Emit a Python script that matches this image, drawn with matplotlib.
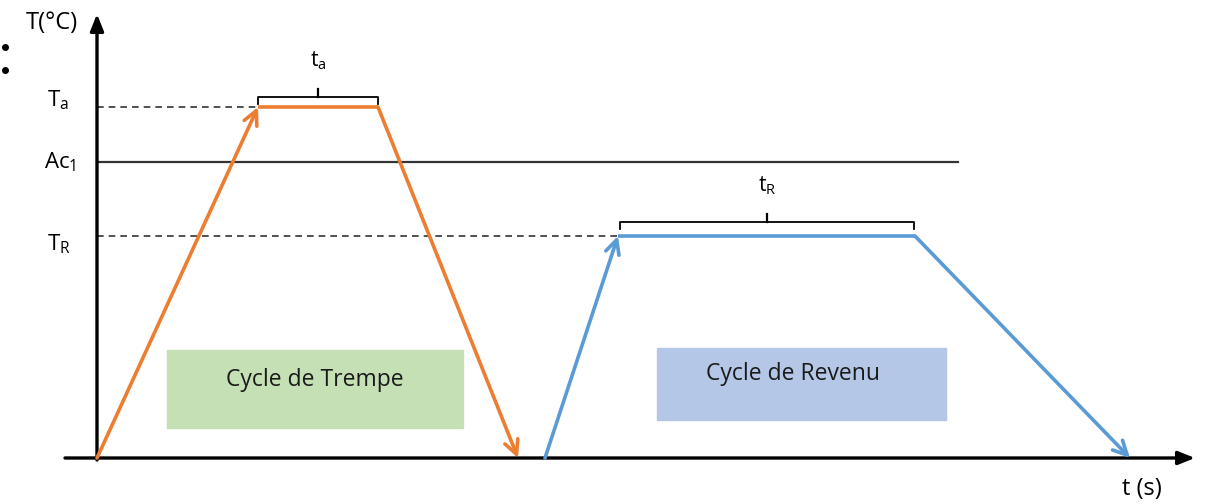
import matplotlib.pyplot as plt
from matplotlib.patches import Rectangle

plt.rcParams['font.family'] = ['Open Sans', 'DejaVu Sans']

# temperature levels (arbitrary units, origin at the axes corner)
T_a = 351
Ac_1 = 296
T_R = 222

# time points of each cycle: start, end of heating, end of hold, end of cooling
t_trempe = [0, 161, 281, 421]
t_revenu = [448, 521, 818, 1033]

orange = '#ED7D31'
blue = '#5B9BD5'

fig = plt.figure(figsize=(12.09, 5.04), dpi=100)
ax = fig.add_axes([0, 0, 1, 1])
ax.set_xlim(-97, 1112)
ax.set_ylim(-46, 458)
ax.axis('off')

# axes with arrow heads
ax.annotate('', xy=(1098, 0), xytext=(-32, 0),
            arrowprops=dict(arrowstyle='-|>,head_length=1.0,head_width=0.4',
                            color='black', lw=2.4, shrinkA=0, shrinkB=0))
ax.annotate('', xy=(0, 444), xytext=(0, -2),
            arrowprops=dict(arrowstyle='-|>,head_length=1.0,head_width=0.4',
                            color='black', lw=2.4, shrinkA=0, shrinkB=0))

# reference levels
ax.plot([0, t_trempe[1]], [T_a, T_a], color='#333333', lw=1.2, ls=(0, (4, 3)))
ax.plot([0, 861], [Ac_1, Ac_1], color='#333333', lw=1.6)
ax.plot([0, t_revenu[1]], [T_R, T_R], color='#333333', lw=1.2, ls=(0, (4, 3)))


def cycle(t, level, color):
    style = '->,head_length=1.0,head_width=0.5'
    ax.annotate('', xy=(t[1], level), xytext=(t[0], 0),
                arrowprops=dict(arrowstyle=style, color=color, lw=2.6,
                                shrinkA=0, shrinkB=0))
    ax.plot([t[1], t[2]], [level, level], color=color, lw=2.6,
            solid_capstyle='butt')
    ax.annotate('', xy=(t[3], 0), xytext=(t[2], level),
                arrowprops=dict(arrowstyle=style, color=color, lw=2.6,
                                shrinkA=0, shrinkB=0))


def brace(x0, x1, y, label):
    xm = (x0 + x1) / 2
    ax.plot([x0, x0, x1, x1], [y - 7, y, y, y - 7], color='black', lw=1.3)
    ax.plot([xm, xm], [y, y + 8], color='black', lw=1.6)
    ax.text(xm, y + 36, label, ha='center', va='center', fontsize=15)


cycle(t_trempe, T_a, orange)
cycle(t_revenu, T_R, blue)

brace(t_trempe[1], t_trempe[2], T_a + 10, r'$\mathregular{t_a}$')
brace(t_revenu[1] + 2, t_revenu[2] - 1, T_R + 14, r'$\mathregular{t_R}$')

# cycle boxes
ax.add_patch(Rectangle((70, 30), 296, 78, color='#C5E0B4', zorder=0))
ax.text(218, 78, 'Cycle de Trempe', ha='center', va='center', fontsize=16.5,
        color='#1a1a1a')
ax.add_patch(Rectangle((560, 38), 289, 72, color='#B4C7E7', zorder=0))
ax.text(696, 84, 'Cycle de Revenu', ha='center', va='center', fontsize=16.5,
        color='#1a1a1a')

# axis labels
ax.text(-45, 435, 'T(°C)', ha='center', va='center', fontsize=17)
ax.text(1045, -31, 't (s)', ha='center', va='center', fontsize=17)
ax.text(-50, T_a + 7, r'$\mathregular{T_a}$', ha='left', va='center', fontsize=16)
ax.text(-53, Ac_1, r'$\mathregular{Ac_1}$', ha='left', va='center', fontsize=16)
ax.text(-50, T_R - 8, r'$\mathregular{T_R}$', ha='left', va='center', fontsize=16)

# bullets at the top left
ax.plot([-92, -92], [411, 388], 'o', color='black', ms=4)

fig.savefig('out.png', dpi=100)
